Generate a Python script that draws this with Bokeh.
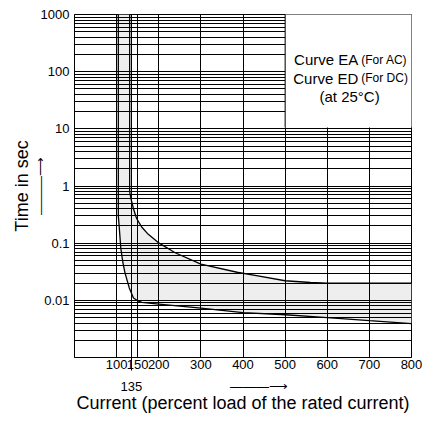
from bokeh.plotting import figure
from bokeh.models import FixedTicker, LinearAxis, CustomJSTickFormatter
from bokeh.core.properties import value
from bokeh.embed import file_html
from bokeh.resources import INLINE

# ---- data ----
upper_x = [131, 131, 134, 140, 146, 150, 160, 173, 201, 239, 300, 386, 432, 500, 560, 600, 800]
upper_y = [1000, 0.8, 0.6, 0.4, 0.29, 0.25, 0.19, 0.148, 0.1, 0.068, 0.043, 0.031, 0.027, 0.022, 0.0205, 0.02, 0.02]

lower_x = [104, 104, 106, 110, 115, 120, 130, 140, 150, 160, 200, 300, 400, 500, 600, 700, 800]
lower_y = [1000, 0.3, 0.2, 0.08, 0.045, 0.03, 0.0165, 0.011, 0.0098, 0.0092, 0.0086, 0.0073, 0.0061, 0.0056, 0.0050, 0.0044, 0.0039]

x_label_ticks = [100, 150, 200, 300, 400, 500, 600, 700, 800]
x_extra_tick = [135]
x_arrow_pos = [438]
x_grid_ticks = [100, 135, 150, 200, 300, 400, 500, 600, 700]
y_label_ticks = [0.01, 0.1, 1, 10, 100, 1000]
y_grid_ticks = [m * 10.0 ** k for k in range(-3, 3) for m in range(1, 10)]

legend_lines = ["Curve EA", "Curve ED"]
legend_notes = ["(For AC)", "(For DC)"]
legend_temp = "(at 25°C)"
legend_box = dict(left=500, right=800, bottom=10.6, top=1000)
legend_anchor_x = 676
legend_y = [161, 77]
legend_temp_x = 653
legend_temp_y = 36.9

ARROW = "\u2014\u2014\u2014\u27f6"
FONT = "Liberation Sans"

p = figure(width=423, height=415, x_range=(0, 800), y_range=(0.001, 1000),
           y_axis_type="log", output_backend="svg", toolbar_location=None,
           min_border_left=74, min_border_right=12, min_border_top=14, min_border_bottom=30,
           background_fill_color="white", border_fill_color="white")
p.outline_line_color = "black"
p.outline_line_width = 1
p.outline_line_alpha = 1

# grids
p.xgrid.ticker = FixedTicker(ticks=x_grid_ticks)
p.ygrid.ticker = FixedTicker(ticks=y_grid_ticks)
for g in (p.xgrid, p.ygrid):
    g.grid_line_color = "black"
    g.grid_line_alpha = 1
    g.grid_line_width = 1
    g.level = "glyph"

# shaded band between curves
band_x = upper_x + lower_x[::-1]
band_y = upper_y + lower_y[::-1]
band = p.patch(band_x, band_y, fill_color="#eeeeee", line_color=None)
band.level = "underlay"

# curves
r1 = p.line(upper_x, upper_y, line_color="black", line_width=1.3)
r2 = p.line(lower_x, lower_y, line_color="black", line_width=1.3)
r1.level = "overlay"
r2.level = "overlay"

# legend box
q = p.quad(left=[legend_box["left"]], right=[legend_box["right"]],
           bottom=[legend_box["bottom"]], top=[legend_box["top"]],
           fill_color="white", line_color=None)
q.level = "overlay"
s = p.segment(x0=[legend_box["left"]], y0=[legend_box["bottom"]],
              x1=[legend_box["left"]], y1=[legend_box["top"]], line_color="black", line_width=1)
s.level = "overlay"

t1 = p.text(x=[legend_anchor_x] * 2, y=legend_y, text=legend_lines, text_align="right",
            text_baseline="middle", text_font=value(FONT), text_font_size="15px", text_color="black",
            x_offset=-1)
t2 = p.text(x=[legend_anchor_x] * 2, y=legend_y, text=legend_notes, text_align="left",
            text_baseline="middle", text_font=value(FONT), text_font_size="12px", text_color="black",
            x_offset=2)
t3 = p.text(x=[legend_temp_x], y=[legend_temp_y], text=[legend_temp], text_align="center",
            text_baseline="middle", text_font=value(FONT), text_font_size="15px", text_color="black")
for t in (t1, t2, t3):
    t.level = "overlay"

# y axis (tick labels + upward arrow as its label)
ya = p.yaxis[0]
ya.ticker = FixedTicker(ticks=y_label_ticks)
ya.formatter = CustomJSTickFormatter(code="return tick.toString();")
ya.major_tick_in = 0
ya.major_tick_out = 0
ya.minor_tick_in = 0
ya.minor_tick_out = 0
ya.axis_line_color = "black"
ya.major_label_text_font = FONT
ya.major_label_text_font_size = "13px"
ya.major_label_text_color = "black"
ya.major_label_standoff = 5
ya.axis_label = ARROW
ya.axis_label_text_font = FONT
ya.axis_label_text_font_size = "13px"
ya.axis_label_text_font_style = "normal"
ya.axis_label_text_color = "black"
ya.axis_label_standoff = -10

ya2 = LinearAxis(ticker=FixedTicker(ticks=[]))
ya2.axis_line_color = None
ya2.major_tick_line_color = None
ya2.minor_tick_line_color = None
ya2.major_label_standoff = 0
ya2.axis_label = "Time in sec"
ya2.axis_label_text_font = FONT
ya2.axis_label_text_font_size = "18px"
ya2.axis_label_text_font_style = "normal"
ya2.axis_label_text_color = "black"
ya2.axis_label_standoff = -2
p.add_layout(ya2, "left")

# x axis
xa = p.xaxis[0]
xa.ticker = FixedTicker(ticks=x_label_ticks, minor_ticks=x_extra_tick)
xa.major_tick_in = 0
xa.major_tick_out = 0
xa.minor_tick_in = 0
xa.minor_tick_out = 13
xa.minor_tick_line_color = "black"
xa.minor_tick_line_width = 1
xa.axis_line_color = "black"
xa.major_label_text_font = FONT
xa.major_label_text_font_size = "13px"
xa.major_label_text_color = "black"
xa.major_label_standoff = -11

xa2 = LinearAxis(ticker=FixedTicker(ticks=x_extra_tick + x_arrow_pos))
xa2.formatter = CustomJSTickFormatter(code="return tick == %d ? '%d' : '%s';" % (x_extra_tick[0], x_extra_tick[0], ARROW))
xa2.axis_line_color = None
xa2.major_tick_line_color = None
xa2.minor_tick_line_color = None
xa2.major_label_text_font = FONT
xa2.major_label_text_font_size = "13px"
xa2.major_label_text_color = "black"
xa2.major_label_standoff = 1
xa2.axis_label = "Current (percent load of the rated current)"
xa2.axis_label_text_font = FONT
xa2.axis_label_text_font_size = "18px"
xa2.axis_label_text_font_style = "normal"
xa2.axis_label_text_color = "black"
xa2.axis_label_standoff = -4
p.add_layout(xa2, "below")

open("out.html", "w").write(file_html(p, INLINE))
